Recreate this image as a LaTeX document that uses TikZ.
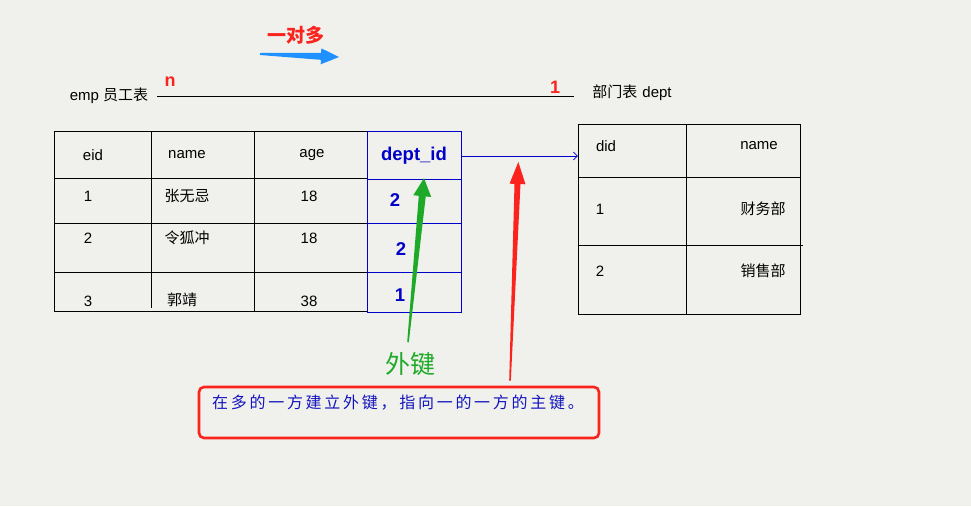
\documentclass[tikz,border=0pt]{standalone}
\usepackage{fontspec}
\setmainfont{Liberation Sans}
\newfontfamily\cjk{Noto Sans CJK SC}
\newfontfamily\cjkwide[LetterSpace=17]{Noto Sans CJK SC}
\usetikzlibrary{arrows.meta,calc}

\definecolor{paper}{RGB}{240,241,236}
\definecolor{keyblue}{RGB}{0,0,200}
\definecolor{noteblue}{RGB}{20,20,190}
\definecolor{fkgreen}{RGB}{30,170,40}
\definecolor{hotred}{RGB}{250,35,30}
\definecolor{skyblue}{RGB}{30,144,255}

% tapered arrow: colour, from, to, head length, head half width, neck half width, tail half width
\newcommand{\fatarrow}[7]{%
  \coordinate (ahbase) at ($(#3)!#4!(#2)$);
  \fill[#1] ($(#2)!#7!-90:(#3)$) -- ($(ahbase)!#6!90:(#2)$) -- ($(ahbase)!#5!90:(#2)$)
    -- (#3) -- ($(ahbase)!#5!-90:(#2)$) -- ($(ahbase)!#6!-90:(#2)$) -- ($(#2)!#7!90:(#3)$) -- cycle;
}

\tikzset{
  cell/.style={inner sep=0pt, font=\fontsize{15}{18}\selectfont},
  hancell/.style={inner sep=0pt, font=\cjk\fontsize{15}{18}\selectfont},
  idcell/.style={inner sep=0pt, text=keyblue, font=\bfseries\fontsize{18.5}{20}\selectfont},
  grid/.style={line width=0.8pt},
  bluegrid/.style={line width=0.8pt, draw=keyblue},
  mark red/.style={inner sep=0pt, text=hotred, font=\bfseries\fontsize{18}{20}\selectfont},
}

\begin{document}
\begin{tikzpicture}[x=1pt, y=-1pt]
    \fill[paper] (0,0) rectangle (971,506);
    \useasboundingbox (0,0) rectangle (971,506);

    % title
    \node[inner sep=0pt, text=hotred, font=\cjk\bfseries\fontsize{19}{20}\selectfont] (ratio) at (296,35) {一对多};
    \coordinate (ratioA) at (260,54);
    \coordinate (ratioB) at (339,57);
    \fatarrow{skyblue}{ratioA}{ratioB}{18pt}{8pt}{3.5pt}{1pt}

    % relation line
    \node[cell] (empT) at (109,96) {emp {\cjk 员工表}};
    \node[cell] (deptName) at (632,93) {{\cjk 部门表}\hspace{5pt}dept};
    \draw[line width=0.7pt] ([xshift=9pt]empT.east) -- ([xshift=-18pt]empT.east -| deptName.west);
    \node[mark red] (many) at (170,82) {n};
    \node[mark red] (one) at (555,87) {1};

    % emp table
    \draw[grid] (54,131) -- (367,131) (54,311) -- (367,311) (54,131) -- (54,311)
        (151,131) -- (151,308) (254,131) -- (254,312)
        (54,178) -- (367,178) (54,223) -- (367,223) (54,272) -- (367,272);
    \draw[bluegrid] (367,131) rectangle (461,312);
    \draw[bluegrid] (367,179) -- (461,179) (367,223) -- (461,223) (367,272) -- (461,272);

    \node[cell] (eidH) at (93,155) {eid};
    \node[cell] (nameH) at (187,155) {name};
    \node[cell] (ageH) at (312,155) {age};
    \node[idcell, minimum width=94pt, minimum height=48pt] (deptH) at (414,156) {dept\_id};

    \node[cell] (eid1) at (88,196) {1};
    \node[hancell] (name1) at (187,196) {张无忌};
    \node[cell] (age1) at (309,196) {18};
    \node[idcell] (dept1) at (395,200) {2};

    \node[cell] (eid2) at (88,238) {2};
    \node[hancell] (name2) at (187,238) {令狐冲};
    \node[cell] (age2) at (309,238) {18};
    \node[idcell] (dept2) at (401,249) {2};

    \node[cell] (eid3) at (88,301) {3};
    \node[hancell] (name3) at (182,300) {郭靖};
    \node[cell] (age3) at (309,301) {38};
    \node[idcell] (dept3) at (400,295) {1};

    % dept table
    \node[minimum width=222pt, minimum height=190pt, inner sep=0pt] (deptT) at (689,219) {};
    \draw[grid] (578,124) rectangle (800,314);
    \draw[grid] (686,124) -- (686,314) (578,177) -- (800,177) (578,245) -- (803,245);

    \node[cell] (didH) at (606,146) {did};
    \node[cell] (dnameH) at (759,146) {name};
    \node[cell] (did1) at (600,209) {1};
    \node[hancell] (dname1) at (763,209) {财务部};
    \node[cell] (did2) at (600,271) {2};
    \node[hancell] (dname2) at (763,271) {销售部};

    % foreign key link
    \draw[keyblue, line width=0.6pt, -{Straight Barb[length=4pt, width=8pt]}] (deptH.east) -- (deptH -| deptT.west);

    % notes
    \node[inner sep=0pt, text=fkgreen, font=\cjk\fontsize{25}{28}\selectfont] (fkLabel) at (410,364) {外键};
    \node[draw=hotred, line width=2.6pt, rounded corners=5pt, minimum width=400pt, minimum height=51pt,
        inner sep=0pt] (note) at (399,412.5) {};
    \node[inner sep=0pt, text=noteblue, font=\cjkwide\fontsize{16}{18}\selectfont] (noteText) at (398,403)
        {在多的一方建立外键，指向一的一方的主键。};

    \coordinate (fkFrom) at ($(fkLabel.north)+(-2,-10)$);
    \coordinate (fkTo) at ($(deptH.south)+(10,-2)$);
    \fatarrow{fkgreen}{fkFrom}{fkTo}{18pt}{9pt}{3.5pt}{0.8pt}

    \coordinate (pkFrom) at ($(note.north)+(111,-5)$);
    \coordinate (pkTo) at ($(deptH.east)!0.49!(deptH -| deptT.west)+(0,6)$);
    \fatarrow{hotred}{pkFrom}{pkTo}{22pt}{8pt}{3pt}{0.8pt}
\end{tikzpicture}
\end{document}
